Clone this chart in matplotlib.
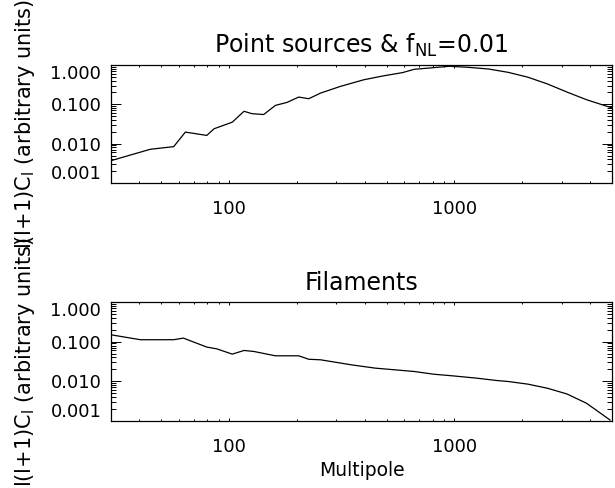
import matplotlib
matplotlib.use("Agg")
import matplotlib.pyplot as plt
from matplotlib.ticker import LogLocator, FixedLocator, NullFormatter

# Point sources & fNL=0.01 spectrum (multipole, amplitude)
ps_ell = [30, 44.8, 56.9, 64.1, 79.8, 85.9, 103.5, 116.7, 126.4, 142.6, 160.8,
          181, 204, 226, 255, 311, 395, 483, 589, 664, 779, 952, 1162, 1419,
          1733, 2117, 2585, 3158, 3855, 5000]
ps_cl = [0.0037, 0.0072, 0.0084, 0.0197, 0.0162, 0.0239, 0.0352, 0.0666, 0.058,
         0.055, 0.094, 0.112, 0.153, 0.139, 0.193, 0.284, 0.419, 0.528, 0.641,
         0.778, 0.84, 0.93, 0.87, 0.79, 0.65, 0.49, 0.33, 0.205, 0.131, 0.081]

# Filaments spectrum
fil_ell = [30, 40.5, 56.9, 62.8, 79.8, 88.3, 103.5, 116.7, 129, 160.8, 204, 226,
           255, 350, 446, 545, 664, 811, 990, 1259, 1538, 1733, 2117, 2585,
           3158, 3855, 4900]
fil_cl = [0.149, 0.112, 0.112, 0.123, 0.073, 0.066, 0.0485, 0.060, 0.0566, 0.044,
          0.044, 0.036, 0.0349, 0.026, 0.0215, 0.0195, 0.0177, 0.0151, 0.0137,
          0.012, 0.0105, 0.0099, 0.0085, 0.0067, 0.0048, 0.0028, 0.00106]

titles = ["Point sources & f$_{\\mathrm{NL}}$=0.01", "Filaments"]
y_ticks = [0.001, 0.01, 0.1, 1.0]
y_labels = ["0.001", "0.010", "0.100", "1.000"]
x_ticks = [100, 1000]
x_labels = ["100", "1000"]
ylabel = "l(l+1)C$_{\\mathrm{l}}$ (arbitrary units)"
xlabel = "Multipole"

plt.rcParams["font.family"] = ["DejaVu Sans"]
plt.rcParams["mathtext.default"] = "regular"

fig = plt.figure(figsize=(6.15, 4.88), dpi=100)
W, H = 615.0, 488.0
left, right = 111 / W, 612 / W
boxes = [(65, 183), (302, 421)]

series = [(ps_ell, ps_cl), (fil_ell, fil_cl)]
for i, ((top, bot), (ell, cl)) in enumerate(zip(boxes, series)):
    ax = fig.add_axes([left, 1 - bot / H, right - left, (bot - top) / H])
    ax.plot(ell, cl, color="black", lw=0.9)
    ax.set_xscale("log")
    ax.set_yscale("log")
    ax.set_xlim(30, 5000)
    ax.set_ylim(0.001, 1.0)

    ax.xaxis.set_major_locator(FixedLocator(x_ticks))
    ax.set_xticklabels(x_labels)
    ax.xaxis.set_minor_locator(LogLocator(base=10, subs=range(2, 10)))
    ax.xaxis.set_minor_formatter(NullFormatter())
    ax.yaxis.set_major_locator(FixedLocator(y_ticks))
    ax.set_yticklabels(y_labels)
    ax.yaxis.set_minor_locator(LogLocator(base=10, subs=range(2, 10)))
    ax.yaxis.set_minor_formatter(NullFormatter())

    ax.tick_params(axis="both", which="both", direction="in", top=True, right=True,
                   width=0.7, labelsize=13)
    ax.tick_params(axis="x", which="major", length=2.5, pad=12)
    ax.tick_params(axis="x", which="minor", length=1.3)
    ax.tick_params(axis="y", which="major", length=7, pad=7)
    ax.tick_params(axis="y", which="minor", length=3.5)

    # keep the edge labels inside the frame like the original
    ylabs = ax.get_yticklabels()
    ylabs[0].set_verticalalignment("bottom")
    ylabs[-1].set_verticalalignment("top")

    for sp in ax.spines.values():
        sp.set_linewidth(0.9)

    ax.set_title(titles[i], fontsize=17, pad=9)
    ax.set_ylabel(ylabel, fontsize=15)
    ax.yaxis.set_label_coords(-0.148, 0.5)
    if i == 1:
        ax.set_xlabel(xlabel, fontsize=13.5, labelpad=4)

fig.savefig("out.png", dpi=100)
